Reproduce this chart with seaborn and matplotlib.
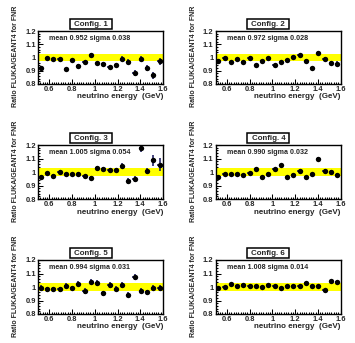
import matplotlib
matplotlib.use("Agg")
import matplotlib.pyplot as plt
from matplotlib.patches import Rectangle
from matplotlib.ticker import MultipleLocator, FixedLocator, FixedFormatter
import seaborn as sns
import pandas as pd

# ---------------- data ----------------
energy = [0.525, 0.580, 0.635, 0.690, 0.745, 0.800, 0.855, 0.910, 0.965, 1.020,
          1.075, 1.130, 1.185, 1.240, 1.295, 1.350, 1.405, 1.460, 1.515, 1.570]
energy_halfwidth = 0.02

ratio_c1 = [0.920, 0.995, 0.985, 0.985, 0.910, 0.980, 0.938, 0.963, 1.017, 0.955,
            0.950, 0.928, 0.945, 0.990, 0.968, 0.883, 0.992, 0.923, 0.866, 0.970]
err_c1 = [0.015, 0.012, 0.010, 0.010, 0.012, 0.012, 0.012, 0.013, 0.015, 0.014,
          0.015, 0.015, 0.016, 0.018, 0.018, 0.020, 0.022, 0.022, 0.025, 0.030]

ratio_c2 = [0.974, 1.000, 0.964, 0.989, 0.966, 1.000, 0.944, 0.971, 0.994, 0.944,
            0.964, 0.979, 1.004, 1.017, 0.974, 0.917, 1.036, 0.991, 0.959, 0.952]
err_c2 = [0.012, 0.010, 0.009, 0.009, 0.009, 0.009, 0.010, 0.010, 0.010, 0.010,
          0.010, 0.010, 0.011, 0.012, 0.012, 0.013, 0.014, 0.014, 0.015, 0.018]

ratio_c3 = [0.964, 0.993, 0.973, 1.003, 0.985, 0.985, 0.988, 0.968, 0.955, 1.030,
            1.025, 1.017, 1.017, 1.045, 0.933, 0.945, 1.180, 1.007, 1.087, 1.055]
err_c3 = [0.015, 0.010, 0.010, 0.010, 0.010, 0.010, 0.010, 0.012, 0.012, 0.015,
          0.015, 0.015, 0.015, 0.018, 0.020, 0.022, 0.030, 0.025, 0.040, 0.050]

ratio_c4 = [0.965, 0.983, 0.983, 0.988, 0.978, 0.995, 1.020, 0.962, 0.988, 1.022,
            1.050, 0.962, 0.978, 1.010, 0.962, 0.983, 1.098, 1.008, 1.000, 0.978]
err_c4 = [0.012, 0.008, 0.008, 0.008, 0.008, 0.008, 0.009, 0.010, 0.010, 0.010,
          0.010, 0.010, 0.011, 0.012, 0.012, 0.013, 0.016, 0.014, 0.015, 0.018]

ratio_c5 = [0.993, 0.983, 0.983, 0.983, 1.010, 0.993, 1.025, 0.970, 1.040, 1.030,
            0.953, 1.015, 0.988, 1.015, 0.943, 1.075, 0.973, 0.960, 0.995, 0.993]
err_c5 = [0.020, 0.018, 0.018, 0.018, 0.018, 0.018, 0.018, 0.020, 0.020, 0.020,
          0.020, 0.020, 0.020, 0.020, 0.020, 0.022, 0.020, 0.020, 0.020, 0.022]

ratio_c6 = [0.990, 0.998, 1.022, 1.005, 1.017, 1.007, 1.007, 0.998, 1.017, 1.005,
            0.995, 1.007, 1.005, 1.005, 1.027, 1.007, 1.007, 0.980, 1.042, 1.035]
err_c6 = [0.008, 0.006, 0.006, 0.006, 0.006, 0.006, 0.006, 0.006, 0.006, 0.006,
          0.006, 0.006, 0.006, 0.006, 0.007, 0.007, 0.008, 0.008, 0.010, 0.012]

titles = ["Config. 1", "Config. 2", "Config. 3", "Config. 4", "Config. 5", "Config. 6"]
stats = ["mean 0.952 sigma 0.038", "mean 0.972 sigma 0.028", "mean 1.005 sigma 0.054",
         "mean 0.990 sigma 0.032", "mean 0.994 sigma 0.031", "mean 1.008 sigma 0.014"]
ratios = [ratio_c1, ratio_c2, ratio_c3, ratio_c4, ratio_c5, ratio_c6]
errors = [err_c1, err_c2, err_c3, err_c4, err_c5, err_c6]

band_low, band_high = 0.973, 1.027
x_ticks = [0.6, 0.8, 1.0, 1.2, 1.4, 1.6]
x_ticklabels = ["0.6", "0.8", "1", "1.2", "1.4", "1.6"]
y_ticks = [0.8, 0.9, 1.0, 1.1, 1.2]
y_ticklabels = ["0.8", "0.9", "1", "1.1", "1.2"]
x_label = "neutrino energy  (GeV)"
y_label = "Ratio FLUKA/GEANT4 for FNR"

# ---------------- style ----------------
sns.set_style("white")
plt.rcParams["font.family"] = ["Liberation Sans", "DejaVu Sans"]
plt.rcParams["font.weight"] = "bold"

W, H = 355, 343
fig = plt.figure(figsize=(W / 100, H / 100), dpi=100)
fig.patch.set_facecolor("white")

col_left = [38, 215.5]
col_right = [163, 340.5]
row_top = [31, 145, 260]
row_bottom = [84, 199, 314]

for i in range(6):
    r, c = divmod(i, 2)
    l, rt = col_left[c], col_right[c]
    t, b = row_top[r], row_bottom[r]
    ax = fig.add_axes([l / W, 1 - b / H, (rt - l) / W, (b - t) / H])
    ax.set_facecolor("white")

    df = pd.DataFrame({"energy": energy, "ratio": ratios[i], "err": errors[i]})

    ax.axhspan(band_low, band_high, color="#ffff00", lw=0, zorder=1)
    ax.errorbar(df["energy"], df["ratio"], yerr=df["err"], xerr=energy_halfwidth,
                fmt="none", ecolor="#1a1a60", elinewidth=1.15, capsize=0, zorder=2)
    sns.scatterplot(data=df, x="energy", y="ratio", ax=ax, color="black",
                    s=15, linewidth=0, zorder=3, legend=False)

    ax.set_xlim(0.5, 1.6)
    ax.set_ylim(0.8, 1.2)
    ax.set_xlabel("")
    ax.set_ylabel("")
    ax.xaxis.set_major_locator(FixedLocator(x_ticks))
    ax.xaxis.set_major_formatter(FixedFormatter(x_ticklabels))
    ax.yaxis.set_major_locator(FixedLocator(y_ticks))
    ax.yaxis.set_major_formatter(FixedFormatter(y_ticklabels))
    ax.xaxis.set_minor_locator(MultipleLocator(0.02))
    ax.yaxis.set_minor_locator(MultipleLocator(0.02))
    ax.tick_params(which="both", direction="in", top=False, right=False,
                   left=True, bottom=True, width=0.75, color="black")
    ax.tick_params(which="major", length=3.3, labelsize=5.4, pad=1.5)
    ax.tick_params(which="minor", length=1.7)
    for lab in ax.get_xticklabels() + ax.get_yticklabels():
        lab.set_fontweight("bold")
    for sp in ax.spines.values():
        sp.set_visible(True)
        sp.set_color("black")
        sp.set_linewidth(1.0)

    # x label, right aligned
    ax.text(1.0, -(97 - 84) / (b - t), x_label, transform=ax.transAxes,
            ha="right", va="center", fontsize=5.75, fontweight="bold")
    # stats text
    ax.text((49.3 - 38) / (rt - l), -(38.3 - 31) / (b - t) + 1.0, stats[i],
            transform=ax.transAxes, ha="left", va="center",
            fontsize=5.1, fontweight="bold")

    # y label
    fig.text((l - 22.5) / W, 1 - ((t + b) / 2 - 1) / H, y_label, rotation=90,
             ha="center", va="center", fontsize=5.05, fontweight="bold")

    # title box
    bx0 = l + 32
    bx1 = l + 73.7
    by_top = t - 11.7
    by_bot = t - 2.3
    fig.patches.append(Rectangle((bx0 / W, 1 - by_bot / H), (bx1 - bx0) / W,
                                 (by_bot - by_top) / H, transform=fig.transFigure,
                                 facecolor="white", edgecolor="black", lw=1.1))
    fig.text(((bx0 + bx1) / 2) / W, 1 - ((by_top + by_bot) / 2 + 0.3) / H, titles[i],
             ha="center", va="center", fontsize=5.7, fontweight="bold")

fig.savefig("out.png", dpi=100)
